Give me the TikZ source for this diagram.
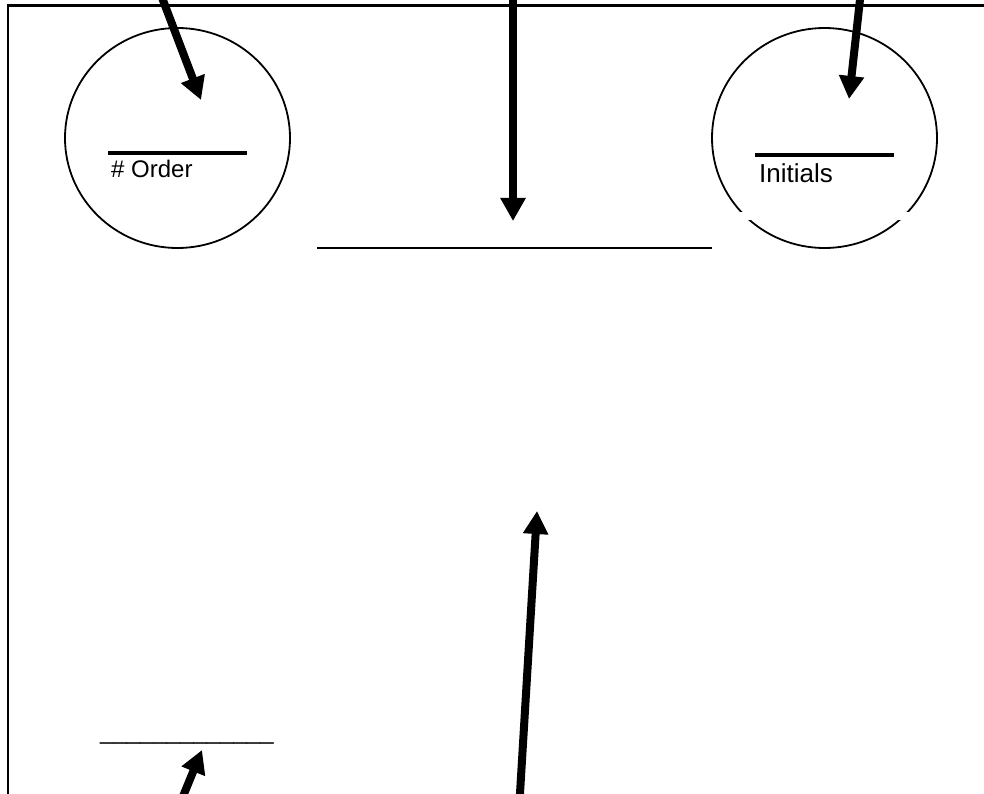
\documentclass[tikz,border=0pt]{standalone}
\usepackage{fontspec}
\setmainfont{Liberation Sans}
\usetikzlibrary{arrows.meta,shapes.geometric}
\begin{document}
\begin{tikzpicture}[x=1pt,y=-1pt,
  bigarrow/.style={line width=8pt, -{Triangle[width=24pt,length=23pt]}},
  ent/.style={draw, ellipse, line width=1.8pt, minimum width=225pt, minimum height=220pt, inner sep=0pt},
  bar/.style={line width=3.3pt},
  thinline/.style={line width=2.2pt},
  lbl/.style={anchor=base west, inner sep=0pt}]
\useasboundingbox (0,0) rectangle (984,794);
% frame
\draw[line width=2.5pt] (8,800) -- (8,5.5) -- (990,5.5);
% left entity
\node[ent] (eL) at (177.5,138) {};
\draw[bar] (108,153) -- (247,153);
\node[lbl, font=\fontsize{24}{28}\selectfont] (tOrder) at (111,178) {\# Order};
% right entity
\node[ent] (eR) at (824.5,138) {};
\fill[white] (735,212) rectangle (915,220.5);
\draw[bar] (755,155) -- (894,155);
\node[lbl, font=\fontsize{26}{30}\selectfont] (tInit) at (759,183) {Initials};
% middle line
\draw[thinline] (317,248) -- (712,248);
% bottom underscore text
\node[lbl, font=\fontsize{24}{28}\selectfont] (uline) at (100,739) {\_\_\_\_\_\_\_\_\_\_\_\_\_};
% arrow coordinates
\coordinate (a1s) at (161,-5);
\coordinate (a1e) at (201,100);
\coordinate (a2s) at (513,-5);
\coordinate (a2e) at (513,221);
\coordinate (a3s) at (860.5,-5);
\coordinate (a3e) at (849,99);
\coordinate (a4s) at (519.6,800);
\coordinate (a4e) at (537,511);
\coordinate (a5s) at (181.5,800);
\coordinate (a5e) at (202,750);
\draw[bigarrow] (a1s) -- (a1e);
\draw[bigarrow] (a2s) -- (a2e);
\draw[bigarrow] (a3s) -- (a3e);
\draw[bigarrow] (a4s) -- (a4e);
\draw[bigarrow] (a5s) -- (a5e);
\end{tikzpicture}
\end{document}
